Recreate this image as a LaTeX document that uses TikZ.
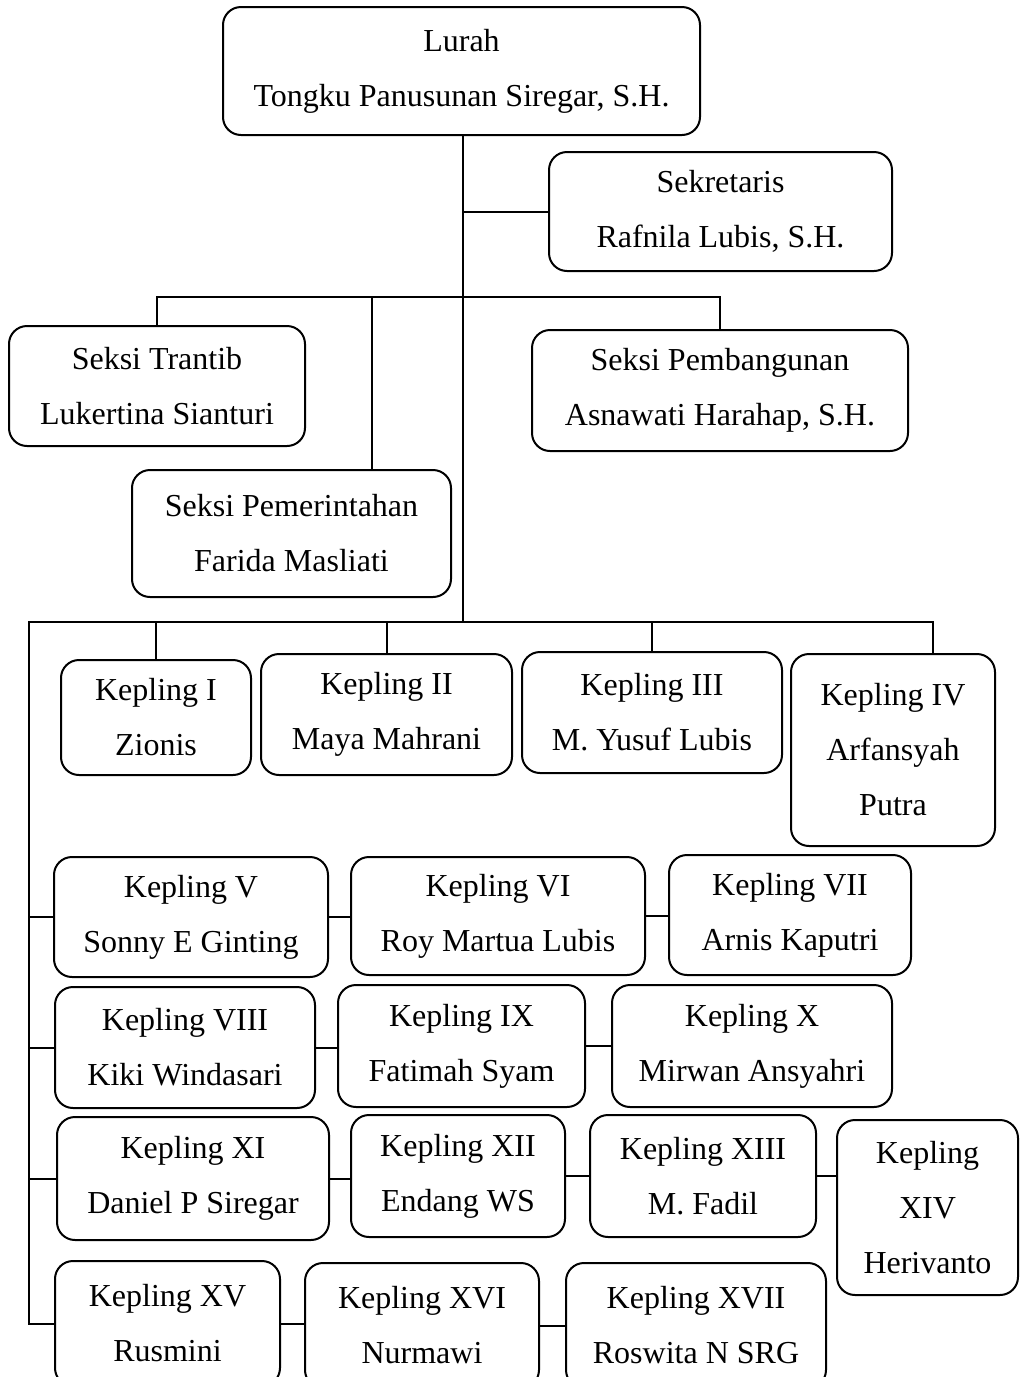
\documentclass[tikz,border=0pt]{standalone}
\usepackage{fontspec}
\setmainfont{Liberation Serif}
\tikzset{
  box/.style={draw, line width=1pt, rounded corners=9pt, align=center, inner sep=0pt,
    font=\fontsize{16}{27.5}\selectfont},
  conn/.style={line width=1pt}
}
\newcommand\bx[6]{\node[box, minimum width={(#4-#2)*0.5pt}, minimum height={(#5-#3)*0.5pt}] (#1) at ({(#2+#4)/2},{(#3+#5)/2}) {#6};}
\begin{document}
\begin{tikzpicture}[x=0.5pt,y=-0.5pt]
\useasboundingbox (0,0) rectangle (1020,1377);
\clip (0,0) rectangle (1020,1377);
\fill[white] (0,0) rectangle (1020,1377);
\bx{lurah}{223}{7}{700}{135}{Lurah\\Tongku Panusunan Siregar, S.H.}
\bx{sek}{549}{152}{892}{271}{Sekretaris\\Rafnila Lubis, S.H.}
\bx{trantib}{9}{326}{305}{446}{Seksi Trantib\\Lukertina Sianturi}
\bx{pemb}{532}{330}{908}{451}{Seksi Pembangunan\\Asnawati Harahap, S.H.}
\bx{pemer}{132}{470}{451}{597}{Seksi Pemerintahan\\Farida Masliati}
\bx{k1}{61}{660}{251}{775}{Kepling I\\Zionis}
\bx{k2}{261}{654}{512}{775}{Kepling II\\Maya Mahrani}
\bx{k3}{522}{652}{782}{773}{Kepling III\\M. Yusuf Lubis}
\bx{k4}{791}{654}{995}{846}{Kepling IV\\Arfansyah\\Putra}
\bx{k5}{54}{857}{328}{977}{Kepling V\\Sonny E Ginting}
\bx{k6}{351}{857}{645}{975}{Kepling VI\\Roy Martua Lubis}
\bx{k7}{669}{855}{911}{975}{Kepling VII\\Arnis Kaputri}
\bx{k8}{55}{987}{315}{1108}{Kepling VIII\\Kiki Windasari}
\bx{k9}{338}{985}{585}{1107}{Kepling IX\\Fatimah Syam}
\bx{k10}{612}{985}{892}{1107}{Kepling X\\Mirwan Ansyahri}
\bx{k11}{57}{1117}{329}{1240}{Kepling XI\\Daniel P Siregar}
\bx{k12}{351}{1115}{565}{1237}{Kepling XII\\Endang WS}
\bx{k13}{590}{1115}{816}{1237}{Kepling XIII\\M. Fadil}
\bx{k14}{837}{1120}{1018}{1295}{Kepling\\XIV\\Herivanto}
\bx{k15}{55}{1261}{280}{1386}{Kepling XV\\Rusmini}
\bx{k16}{305}{1263}{539}{1388}{Kepling XVI\\Nurmawi}
\bx{k17}{566}{1263}{826}{1388}{Kepling XVII\\Roswita N SRG}
% junctions
\coordinate (j1) at (463,297);
\coordinate (j2) at (463,622);
\coordinate (pm) at (372,297);
\coordinate (d4) at (933,622);
\coordinate (lb) at (29,622);
% main trunk
\draw[conn] (j2 |- lurah.south) -- (j2);
\draw[conn] (j2 |- sek.west) -- (sek.west);
% seksi bus
\draw[conn] (trantib.north) -- (trantib.north |- j1) -- (pemb.north |- j1) -- (pemb.north);
\draw[conn] (pm) -- (pm |- pemer.north);
% kepling bus
\draw[conn] (d4 |- k4.north) -- (d4) -- (lb) -- (lb |- k15.west) -- (k15.west);
\draw[conn] (k1.north) -- (k1.north |- j2);
\draw[conn] (k2.north) -- (k2.north |- j2);
\draw[conn] (k3.north) -- (k3.north |- j2);
% rows
\draw[conn] (lb |- k5.west) -- (k5.west);
\draw[conn] (k5.east) -- (k5.east -| k6.west);
\draw[conn] (k6.east) -- (k6.east -| k7.west);
\draw[conn] (lb |- k8.west) -- (k8.west);
\draw[conn] (k8.east) -- (k8.east -| k9.west);
\draw[conn] (k9.east) -- (k9.east -| k10.west);
\draw[conn] (lb |- k11.west) -- (k11.west);
\draw[conn] (k11.east) -- (k11.east -| k12.west);
\draw[conn] (k12.east) -- (k12.east -| k13.west);
\draw[conn] (k13.east) -- (k13.east -| k14.west);
\draw[conn] (k15.east) -- (k15.east -| k16.west);
\draw[conn] (k16.east) -- (k16.east -| k17.west);
\end{tikzpicture}
\end{document}
